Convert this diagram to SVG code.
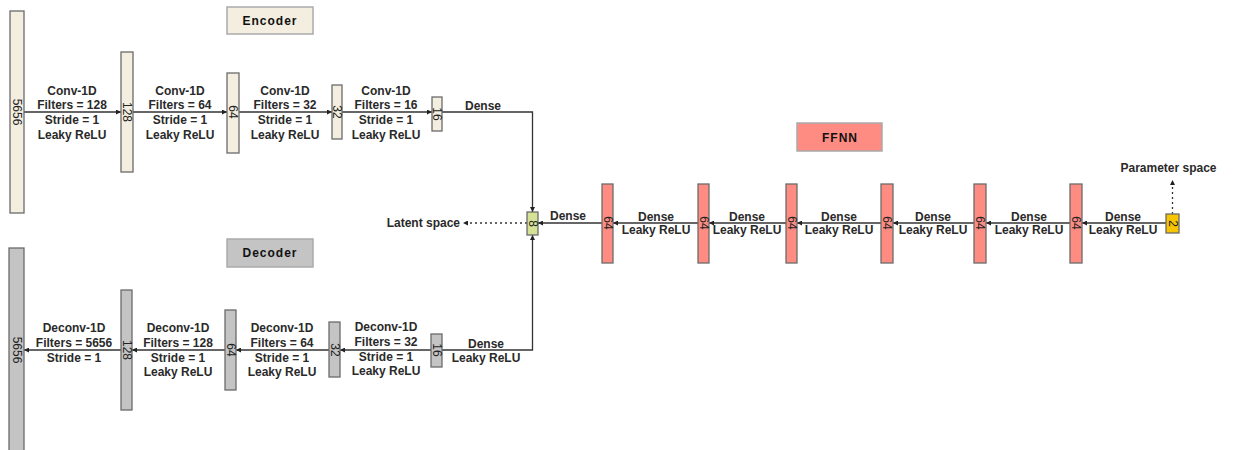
<svg xmlns="http://www.w3.org/2000/svg" width="1236" height="450" viewBox="0 0 1236 450">
<style>
.enc{fill:#f3eedf;stroke:#6b6b6b;stroke-width:1.3}
.dec{fill:#c4c4c4;stroke:#6b6b6b;stroke-width:1.3}
.ff{fill:#ff8c82;stroke:#6b6b6b;stroke-width:1.3}
.lat{fill:#d5e296;stroke:#6b6b6b;stroke-width:1.3}
.par{fill:#f7c400;stroke:#6b6b6b;stroke-width:1.3}
.tag{stroke:#aaaaaa;stroke-width:1.5}
.lbl{font-family:"Liberation Sans",Arial,sans-serif;font-size:12px;font-weight:bold;fill:#2a2a2a;text-anchor:middle}
.ttl{font-family:"Liberation Sans",Arial,sans-serif;font-size:12px;font-weight:bold;fill:#111;text-anchor:middle;letter-spacing:1px}
.num{font-family:"Liberation Sans",Arial,sans-serif;font-size:12px;fill:#222;text-anchor:middle;dominant-baseline:central}
.ln{fill:none;stroke:#333;stroke-width:1.3}
.dot{fill:none;stroke:#333;stroke-width:1.3;stroke-dasharray:2 3}
</style>
<defs>
<marker id="ah" viewBox="0 0 10 10" refX="10" refY="5" markerWidth="5" markerHeight="5" markerUnits="userSpaceOnUse" orient="auto">
<path d="M0,0 L10,5 L0,10 z" fill="#222"/>
</marker>
</defs>

<g id="connectors">
<line class="ln" x1="24" y1="112" x2="121" y2="112" marker-end="url(#ah)"/>
<line class="ln" x1="133" y1="112" x2="227" y2="112" marker-end="url(#ah)"/>
<line class="ln" x1="239" y1="112" x2="332" y2="112" marker-end="url(#ah)"/>
<line class="ln" x1="342" y1="112" x2="432" y2="112" marker-end="url(#ah)"/>
<path class="ln" d="M442,112 H532.5 V212" marker-end="url(#ah)"/>
<path class="ln" d="M442,350 H532.5 V235" marker-end="url(#ah)"/>
<line class="ln" x1="431" y1="350" x2="340" y2="350" marker-end="url(#ah)"/>
<line class="ln" x1="329" y1="350" x2="236" y2="350" marker-end="url(#ah)"/>
<line class="ln" x1="225" y1="350" x2="132" y2="350" marker-end="url(#ah)"/>
<line class="ln" x1="121" y1="350" x2="24" y2="350" marker-end="url(#ah)"/>
<line class="ln" x1="1166" y1="223" x2="1082" y2="223" marker-end="url(#ah)"/>
<line class="ln" x1="1070" y1="223" x2="986" y2="223" marker-end="url(#ah)"/>
<line class="ln" x1="974" y1="223" x2="893" y2="223" marker-end="url(#ah)"/>
<line class="ln" x1="881" y1="223" x2="797" y2="223" marker-end="url(#ah)"/>
<line class="ln" x1="786" y1="223" x2="709" y2="223" marker-end="url(#ah)"/>
<line class="ln" x1="698" y1="223" x2="613" y2="223" marker-end="url(#ah)"/>
<line class="ln" x1="602" y1="223" x2="538" y2="223" marker-end="url(#ah)"/>
<line class="dot" x1="527" y1="223" x2="463" y2="223" marker-end="url(#ah)"/>
<line class="dot" x1="1172.5" y1="214" x2="1172.5" y2="180" marker-end="url(#ah)"/>
</g>

<g id="encoder-title"><rect class="enc tag" x="227" y="7" width="86" height="27"/><text class="ttl" x="270" y="25">Encoder</text></g>
<g id="decoder-title"><rect class="dec tag" x="227" y="239" width="86" height="28"/><text class="ttl" x="270" y="257">Decoder</text></g>
<g id="ffnn-title"><rect class="ff tag" x="797" y="123" width="85" height="28"/><text class="ttl" x="840" y="142">FFNN</text></g>

<g id="enc-5656"><rect class="enc" x="10" y="11" width="14" height="202"/><text class="num" transform="translate(17,112) rotate(90)">5656</text></g>
<g id="enc-128"><rect class="enc" x="121" y="52" width="12" height="120"/><text class="num" transform="translate(127,112) rotate(90)">128</text></g>
<g id="enc-64"><rect class="enc" x="227" y="73" width="12" height="80"/><text class="num" transform="translate(233,112) rotate(90)">64</text></g>
<g id="enc-32"><rect class="enc" x="332" y="85" width="10" height="54"/><text class="num" transform="translate(337,112) rotate(90)">32</text></g>
<g id="enc-16"><rect class="enc" x="432" y="97" width="10" height="34"/><text class="num" transform="translate(437,114) rotate(90)">16</text></g>

<g id="latent"><rect class="lat" x="527" y="212" width="11" height="23"/><text class="num" transform="translate(532.5,223.5) rotate(90)">8</text></g>

<g id="dec-5656"><rect class="dec" x="9" y="248" width="15" height="215"/><text class="num" transform="translate(16.5,350) rotate(90)">5656</text></g>
<g id="dec-128"><rect class="dec" x="121" y="290" width="11" height="120"/><text class="num" transform="translate(126.5,350) rotate(90)">128</text></g>
<g id="dec-64"><rect class="dec" x="225" y="310" width="11" height="80"/><text class="num" transform="translate(230.5,350) rotate(90)">64</text></g>
<g id="dec-32"><rect class="dec" x="329" y="322" width="11" height="55"/><text class="num" transform="translate(334.5,350) rotate(90)">32</text></g>
<g id="dec-16"><rect class="dec" x="431" y="334" width="11" height="33"/><text class="num" transform="translate(436.5,350) rotate(90)">16</text></g>

<g id="ff-1"><rect class="ff" x="602" y="184" width="11" height="79"/><text class="num" transform="translate(607.5,223) rotate(90)">64</text></g>
<g id="ff-2"><rect class="ff" x="698" y="184" width="11" height="79"/><text class="num" transform="translate(703.5,223) rotate(90)">64</text></g>
<g id="ff-3"><rect class="ff" x="786" y="184" width="11" height="79"/><text class="num" transform="translate(791.5,223) rotate(90)">64</text></g>
<g id="ff-4"><rect class="ff" x="881" y="184" width="12" height="79"/><text class="num" transform="translate(887,223) rotate(90)">64</text></g>
<g id="ff-5"><rect class="ff" x="974" y="184" width="12" height="79"/><text class="num" transform="translate(980,223) rotate(90)">64</text></g>
<g id="ff-6"><rect class="ff" x="1070" y="184" width="12" height="79"/><text class="num" transform="translate(1076,223) rotate(90)">64</text></g>
<g id="param"><rect class="par" x="1166" y="214" width="13" height="19"/><text class="num" transform="translate(1172.5,223.5) rotate(90)">2</text></g>

<g id="labels">
<text class="lbl" x="72" y="95">Conv-1D</text><text class="lbl" x="72" y="109">Filters = 128</text><text class="lbl" x="72" y="124">Stride = 1</text><text class="lbl" x="72" y="138.5">Leaky ReLU</text>
<text class="lbl" x="180" y="95">Conv-1D</text><text class="lbl" x="180" y="109">Filters = 64</text><text class="lbl" x="180" y="124">Stride = 1</text><text class="lbl" x="180" y="138.5">Leaky ReLU</text>
<text class="lbl" x="285" y="95">Conv-1D</text><text class="lbl" x="285" y="109">Filters = 32</text><text class="lbl" x="285" y="124">Stride = 1</text><text class="lbl" x="285" y="138.5">Leaky ReLU</text>
<text class="lbl" x="386" y="95">Conv-1D</text><text class="lbl" x="386" y="109">Filters = 16</text><text class="lbl" x="386" y="124">Stride = 1</text><text class="lbl" x="386" y="138.5">Leaky ReLU</text>
<text class="lbl" x="483" y="110">Dense</text>

<text class="lbl" x="74" y="332">Deconv-1D</text><text class="lbl" x="74" y="346.5">Filters = 5656</text><text class="lbl" x="74" y="361.5">Stride = 1</text>
<text class="lbl" x="178" y="332">Deconv-1D</text><text class="lbl" x="178" y="346.5">Filters = 128</text><text class="lbl" x="178" y="361.5">Stride = 1</text><text class="lbl" x="178" y="376">Leaky ReLU</text>
<text class="lbl" x="282" y="332">Deconv-1D</text><text class="lbl" x="282" y="346.5">Filters = 64</text><text class="lbl" x="282" y="361.5">Stride = 1</text><text class="lbl" x="282" y="376">Leaky ReLU</text>
<text class="lbl" x="386" y="331">Deconv-1D</text><text class="lbl" x="386" y="345.5">Filters = 32</text><text class="lbl" x="386" y="361">Stride = 1</text><text class="lbl" x="386" y="375">Leaky ReLU</text>
<text class="lbl" x="486" y="347.5">Dense</text><text class="lbl" x="486" y="361.5">Leaky ReLU</text>

<text class="lbl" x="568" y="219.5">Dense</text>
<text class="lbl" x="656" y="220.5">Dense</text><text class="lbl" x="656" y="234">Leaky ReLU</text>
<text class="lbl" x="747" y="220.5">Dense</text><text class="lbl" x="747" y="234">Leaky ReLU</text>
<text class="lbl" x="839" y="220.5">Dense</text><text class="lbl" x="839" y="234">Leaky ReLU</text>
<text class="lbl" x="933" y="220.5">Dense</text><text class="lbl" x="933" y="234">Leaky ReLU</text>
<text class="lbl" x="1029" y="220.5">Dense</text><text class="lbl" x="1029" y="234">Leaky ReLU</text>
<text class="lbl" x="1123" y="220.5">Dense</text><text class="lbl" x="1123" y="234">Leaky ReLU</text>

<text class="lbl" x="460" y="226.5" style="text-anchor:end">Latent space</text>
<text class="lbl" x="1168.5" y="172">Parameter space</text>
</g>
</svg>
